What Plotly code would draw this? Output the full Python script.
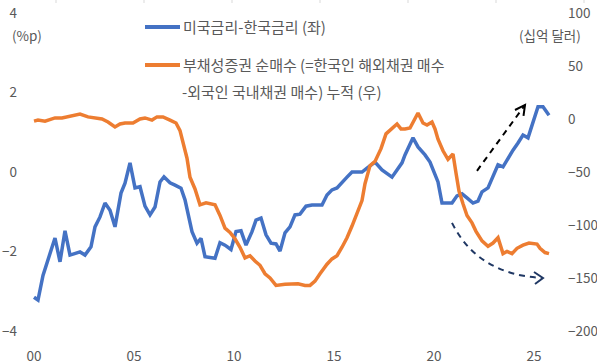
import plotly.graph_objects as go

# ---- data ----
spread_years = [2000.00, 2000.20, 2000.45, 2000.70, 2001.05, 2001.30, 2001.55, 2001.80, 2002.30, 2002.55,
                2002.85, 2003.05, 2003.30, 2003.55, 2003.80, 2004.05, 2004.35, 2004.55, 2004.80, 2005.05,
                2005.30, 2005.55, 2005.80, 2006.05, 2006.30, 2006.50, 2006.80, 2007.05, 2007.35, 2007.55,
                2007.70, 2007.90, 2008.15, 2008.35, 2008.55, 2009.05, 2009.30, 2009.55, 2009.85, 2010.10,
                2010.35, 2010.60, 2010.90, 2011.10, 2011.35, 2011.60, 2011.85, 2012.10, 2012.30, 2012.55,
                2012.80, 2013.05, 2013.30, 2013.60, 2013.90, 2014.40, 2014.65, 2014.90, 2015.15, 2015.40,
                2015.65, 2015.90, 2016.40, 2016.65, 2017.05, 2017.40, 2017.65, 2017.90, 2018.15, 2018.40,
                2018.55, 2018.70, 2018.95, 2019.20, 2019.55, 2019.80, 2020.05, 2020.20, 2020.40, 2020.90,
                2021.15, 2021.40, 2021.65, 2021.95, 2022.20, 2022.40, 2022.70, 2022.95, 2023.20, 2023.45,
                2023.70, 2023.95, 2024.20, 2024.45, 2024.70, 2024.95, 2025.20, 2025.45, 2025.75]
spread_pp = [-3.15, -3.22, -2.60, -2.21, -1.66, -2.26, -1.48, -2.09, -2.01, -2.09,
             -1.88, -1.38, -1.13, -0.78, -0.96, -1.38, -0.53, -0.28, 0.23, -0.40,
             -0.37, -0.86, -1.08, -0.88, -0.25, -0.12, -0.27, -0.33, -0.41, -0.70,
             -1.03, -1.50, -1.79, -1.67, -2.13, -2.17, -1.78, -1.84, -1.95, -1.50,
             -1.48, -1.84, -1.50, -1.21, -1.16, -1.58, -1.79, -1.81, -1.99, -1.53,
             -1.38, -1.08, -1.06, -0.86, -0.83, -0.83, -0.58, -0.45, -0.40, -0.28,
             -0.13, 0.00, 0.00, 0.10, 0.25, 0.05, -0.03, -0.13, 0.05, 0.23,
             0.43, 0.60, 0.86, 0.63, 0.43, 0.25, -0.03, -0.25, -0.78, -0.78,
             -0.60, -0.55, -0.65, -0.78, -0.73, -0.50, -0.40, -0.13, 0.18, 0.13,
             0.35, 0.55, 0.73, 0.93, 0.86, 1.26, 1.64, 1.64, 1.43]

bond_years = [2000.00, 2000.20, 2000.55, 2001.05, 2001.40, 2001.65, 2002.05, 2002.30, 2002.70, 2003.05,
              2003.40, 2003.70, 2004.05, 2004.30, 2004.55, 2004.95, 2005.30, 2005.55, 2005.90, 2006.15,
              2006.45, 2006.80, 2007.10, 2007.30, 2007.45, 2007.65, 2007.80, 2008.05, 2008.30, 2008.60,
              2009.05, 2009.30, 2009.55, 2009.80, 2010.05, 2010.30, 2010.55, 2010.80, 2011.05, 2011.30,
              2011.55, 2011.80, 2012.10, 2012.55, 2013.20, 2013.55, 2013.80, 2014.05, 2014.30, 2014.65,
              2014.90, 2015.15, 2015.40, 2015.65, 2015.90, 2016.15, 2016.40, 2016.55, 2016.80, 2017.05,
              2017.35, 2017.60, 2017.90, 2018.15, 2018.35, 2018.55, 2018.80, 2019.00, 2019.20, 2019.45,
              2019.65, 2019.90, 2020.05, 2020.20, 2020.45, 2020.70, 2020.95, 2021.10, 2021.25, 2021.45,
              2021.65, 2021.90, 2022.10, 2022.40, 2022.70, 2022.95, 2023.20, 2023.45, 2023.65, 2023.90,
              2024.15, 2024.45, 2024.75, 2025.15, 2025.30, 2025.55, 2025.75]
bond_cum_bn = [-2, -1, -2, 1, 1, 2, 3, 4.7, 2, 1,
               0, -2.8, -7.5, -4.7, -3.8, -3.8, 0, 1, -1, 2,
               2, -1, -3.8, -11, -22, -37, -55, -66, -81, -79,
               -81, -91, -103, -107, -113, -121, -131, -129, -134, -138,
               -146, -150, -157, -156, -155.5, -157, -157, -153, -146, -137,
               -132, -129, -121, -112, -101, -90, -77, -61, -44, -40,
               -28, -14, -8.5, -4.7, -9.4, -9.4, -8.5, -1.9, 5.7, -3.8,
               -5.7, -2.8, -9.4, -19, -30, -38, -33, -51, -68, -80,
               -91, -98, -106, -115, -120, -117, -112, -127, -125, -127,
               -122, -119, -117, -118, -122, -126, -127]

x_tick_vals = [2000, 2005, 2010, 2015, 2020, 2025]
x_tick_text = ["00", "05", "10", "15", "20", "25"]
left_ticks = [-4, -2, 0, 2, 4]
right_ticks = [-200, -150, -100, -50, 0, 50, 100]

name_spread = "미국금리-한국금리 (좌)"
name_bond_1 = "부채성증권 순매수 (=한국인 해외채권 매수"
name_bond_2 = "-외국인 국내채권 매수) 누적 (우)"

BLUE = "#4472C4"
ORANGE = "#ED7D31"
TEXT = "#595959"
FONT = "Noto Sans CJK KR, Noto Sans, sans-serif"

W, H = 597, 363
L, R, T, B = 30, 558, 13, 331


def px(xp, yp):
    """pixel position -> paper coordinates (for decorations only)"""
    return (xp - L) / (R - L), (B - yp) / (B - T)


fig = go.Figure()
fig.add_trace(go.Scatter(x=spread_years, y=spread_pp, mode="lines", name=name_spread,
                         line=dict(color=BLUE, width=3.5), showlegend=False))
fig.add_trace(go.Scatter(x=bond_years, y=bond_cum_bn, mode="lines", name=name_bond_1 + name_bond_2,
                         line=dict(color=ORANGE, width=3.5), yaxis="y2", showlegend=False))

shapes = []
# legend samples
for yp, col in [(27, BLUE), (65, ORANGE)]:
    x0, y0 = px(145, yp)
    x1, _ = px(180, yp)
    shapes.append(dict(type="line", xref="paper", yref="paper", x0=x0, x1=x1, y0=y0, y1=y0,
                       line=dict(color=col, width=4)))
# faint top tick stubs
for xs in [56, 144, 232, 320, 408, 496, 584]:
    a, b0 = px(xs, 0)
    _, b1 = px(xs, 3)
    shapes.append(dict(type="line", xref="paper", yref="paper", x0=a, x1=a, y0=b0, y1=b1,
                       line=dict(color="#d9d9d9", width=1)))

# dashed arrows (data coordinates)
shapes.append(dict(type="line", xref="x", yref="y", x0=2022.15, y0=0.03, x1=2024.55, y1=1.686,
                   line=dict(color="#000000", width=2, dash="6px,5px")))
shapes.append(dict(type="path", xref="x", yref="y",
                   path="M 2024.05,1.56 L 2024.55,1.686 L 2024.475,1.41",
                   line=dict(color="#000000", width=2)))
shapes.append(dict(type="path", xref="x", yref="y",
                   path="M 2020.9,-1.28 Q 2022.2,-2.59 2025.45,-2.667",
                   line=dict(color="#203864", width=2, dash="6px,5px")))
shapes.append(dict(type="path", xref="x", yref="y",
                   path="M 2025.0,-2.516 L 2025.45,-2.667 L 2025.05,-2.818",
                   line=dict(color="#203864", width=2)))

annotations = []
ax, ay = px(10, 35)
annotations.append(dict(text="(%p)", xref="paper", yref="paper", x=ax, y=ay, xanchor="left",
                        yanchor="middle", showarrow=False, font=dict(size=13.5, color=TEXT)))
ax, ay = px(583, 35)
annotations.append(dict(text="(십억 달러)", xref="paper", yref="paper", x=ax, y=ay, xanchor="right",
                        yanchor="middle", showarrow=False, font=dict(size=13.5, color=TEXT)))
for txt, xp, yp in [(name_spread, 181, 27), (name_bond_1, 181, 65), (name_bond_2, 180, 92)]:
    ax, ay = px(xp, yp)
    annotations.append(dict(text=txt, xref="paper", yref="paper", x=ax, y=ay, xanchor="left",
                            yanchor="middle", showarrow=False, font=dict(size=15, color=TEXT)))

fig.update_layout(
    width=W, height=H,
    margin=dict(l=L, r=W - R, t=T, b=H - B, pad=0, autoexpand=False),
    paper_bgcolor="white", plot_bgcolor="white",
    font=dict(family=FONT, size=13.5, color=TEXT),
    showlegend=False,
    hovermode=False,
    xaxis=dict(range=[2000 + (L - 34) / 20, 2000 + (R - 34) / 20], tickvals=x_tick_vals,
               ticktext=x_tick_text, showgrid=False, zeroline=False, showline=False, ticks="",
               ticklabelstandoff=15, automargin=False, tickfont=dict(size=13.5, color=TEXT)),
    yaxis=dict(range=[-4, 4], tickvals=left_ticks, showgrid=False, zeroline=False, showline=False,
               ticks="", ticklabelstandoff=12, automargin=False, tickfont=dict(size=13.5, color=TEXT)),
    yaxis2=dict(range=[-200, 100], tickvals=right_ticks, overlaying="y", side="right",
                showgrid=False, zeroline=False, showline=False, ticks="", ticklabelstandoff=9,
                automargin=False, tickfont=dict(size=13.5, color=TEXT)),
    shapes=shapes,
    annotations=annotations,
)

fig.write_html("out.html", config={"displayModeBar": False, "staticPlot": True},
               post_script="document.body.style.margin='0';")
